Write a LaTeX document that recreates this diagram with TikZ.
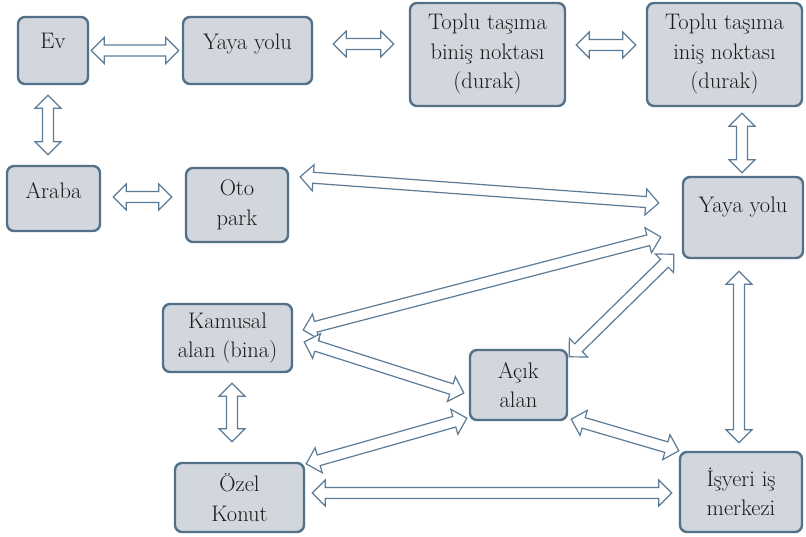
\documentclass[tikz,border=0pt]{standalone}
\usepackage{tikz}
\usepackage{xcolor}
\usetikzlibrary{positioning, calc}

\definecolor{boxfill}{HTML}{D2D7DE}
\definecolor{boxline}{HTML}{527189}
\definecolor{arrowline}{HTML}{5B7B96}

% hollow two-headed arrow between two points
\newcommand{\twoway}[2]{%
  \path #1 coordinate (tw-a) #2 coordinate (tw-b);
  \path ($(tw-a)!13pt!(tw-b)$) coordinate (tw-ha)
        ($(tw-b)!13pt!(tw-a)$) coordinate (tw-hb);
  \draw[twoarrow] (tw-a)
    -- ($(tw-ha)!13pt!90:(tw-b)$) -- ($(tw-ha)!5.5pt!90:(tw-b)$)
    -- ($(tw-hb)!5.5pt!-90:(tw-a)$) -- ($(tw-hb)!13pt!-90:(tw-a)$)
    -- (tw-b)
    -- ($(tw-hb)!13pt!90:(tw-a)$) -- ($(tw-hb)!5.5pt!90:(tw-a)$)
    -- ($(tw-ha)!5.5pt!-90:(tw-b)$) -- ($(tw-ha)!13pt!-90:(tw-b)$)
    -- cycle;}

% lift a one-line label inside its box
\newcommand{\lift}[2]{\raisebox{#1}[\height][\depth]{#2}}

\begin{document}
\begin{tikzpicture}[x=1pt, y=-1pt,
  box/.style={draw=boxline, fill=boxfill, line width=2.4pt, rounded corners=7pt,
    inner sep=0pt, align=center, text=black!90,
    font=\fontsize{22.5}{29.5}\selectfont},
  twoarrow/.style={draw=arrowline, fill=white, line width=1.2pt}]

  \useasboundingbox (0,0) rectangle (806,536);

  % Top row
  \node[box, minimum width=70pt, minimum height=67pt] (ev) at (53,50.5) {\lift{9.5pt}{Ev}};
  \node[box, minimum width=129pt, minimum height=67pt] (walk1) at (247.5,50.5) {\lift{7pt}{Yaya yolu}};
  \node[box, minimum width=155pt, minimum height=103pt] (board) at (487.5,54.5) {Toplu taşıma\\biniş noktası\\(durak)};
  \node[box, minimum width=155pt, minimum height=103pt] (alight) at (724.5,54.5) {Toplu taşıma\\iniş noktası\\(durak)};

  % Middle row
  \node[box, minimum width=93pt, minimum height=65pt] (car) at (53.5,198.5) {\lift{8pt}{Araba}};
  \node[box, minimum width=102pt, minimum height=74pt] (park) at (237,205) {Oto\\park};
  \node[box, minimum width=120pt, minimum height=81pt] (walk2) at (743,217.5) {\lift{10.5pt}{Yaya yolu}};

  % Lower part
  \node[box, minimum width=129pt, minimum height=68pt] (public) at (227.5,338) {Kamusal\\alan (bina)};
  \node[box, minimum width=97pt, minimum height=70pt] (open) at (518.5,385) {Açık\\alan};
  \node[box, minimum width=129pt, minimum height=69pt] (home) at (239.5,497.5) {Özel\\Konut};
  \node[box, minimum width=122pt, minimum height=80pt] (work) at (741,492) {İşyeri iş\\merkezi};

  % Arrows
  \twoway{([xshift=2pt]ev.east)}{([xshift=-3pt]walk1.west)}
  \twoway{([xshift=20pt,yshift=6.5pt]walk1.east)}{([xshift=-15pt,yshift=10.5pt]board.west)}
  \twoway{([xshift=10pt,yshift=9.5pt]board.east)}{([xshift=-10pt,yshift=9.5pt]alight.west)}
  \twoway{([xshift=-5pt,yshift=-10pt]ev.south)}{([xshift=-5.5pt,yshift=10pt]car.north)}
  \twoway{([xshift=12pt,yshift=1.5pt]car.east)}{([xshift=-13pt,yshift=8pt]park.west)}
  \twoway{([xshift=17.5pt,yshift=-6pt]alight.south)}{([xshift=-1pt,yshift=3pt]walk2.north)}
  \twoway{([xshift=11pt,yshift=-10pt]park.north east)}{([xshift=-23pt,yshift=14.5pt]walk2.west)}
  \twoway{([xshift=10pt,yshift=8pt]public.east)}{([xshift=-21pt,yshift=-19.5pt]walk2.west)}
  \twoway{([xshift=11pt,yshift=-4pt]public.east)}{([xshift=-5pt,yshift=-8pt]open.west)}
  \twoway{([xshift=1pt,yshift=-8pt]open.north east)}{([xshift=-8pt,yshift=5pt]walk2.south west)}
  \twoway{([xshift=4.5pt,yshift=-10pt]public.south)}{([xshift=-7.5pt,yshift=20pt]home.north)}
  \twoway{([xshift=1pt,yshift=-2pt]home.north east)}{([xshift=-2pt,yshift=3pt]open.south west)}
  \twoway{([xshift=3pt,yshift=2pt]open.south east)}{(work.north west)}
  \twoway{([xshift=7pt,yshift=4.5pt]home.east)}{([xshift=-7pt,yshift=-1pt]work.west)}
  \twoway{([xshift=-4pt,yshift=-12pt]walk2.south)}{([xshift=-2pt,yshift=8pt]work.north)}

\end{tikzpicture}
\end{document}
